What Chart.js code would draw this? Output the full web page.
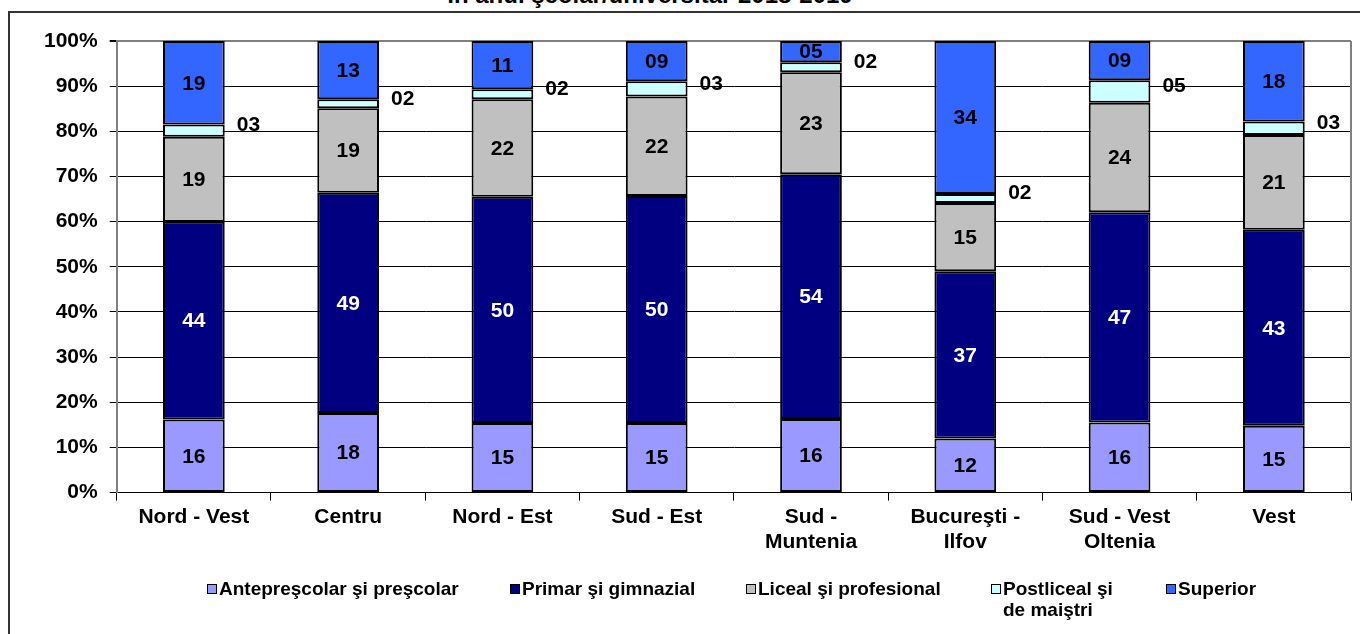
<!DOCTYPE html>
<html>
<head>
<meta charset="utf-8">
<script src="https://cdn.jsdelivr.net/npm/chart.js@4.4.1/dist/chart.umd.min.js"></script>
<style>
  html, body { margin: 0; padding: 0; background: #fff; }
  body { width: 1360px; height: 634px; position: relative; overflow: hidden; font-family: "Liberation Sans", Arial, sans-serif; }
  #frame { position: absolute; left: 8px; top: 11px; width: 1360px; height: 640px; border-left: 2px solid #333; border-top: 2px solid #333; box-sizing: border-box; }
  #title { position: absolute; left: 0; width: 1300px; top: -17px; text-align: center; font-weight: bold; font-size: 24px; line-height: 24px; color: #000; white-space: nowrap; }
  #wrap { position: absolute; left: 0; top: 0; width: 1360px; height: 634px; }
  .lg { position: absolute; top: 578px; font-weight: bold; font-size: 19px; line-height: 21px; color: #000; white-space: nowrap; }
  .lg .box { position: absolute; left: 0; top: 6px; width: 8px; height: 8px; border: 1px solid #000; }
  .lg .txt { position: absolute; left: 12px; top: 0; }
</style>
</head>
<body>
<div id="title">în anul şcolar/universitar 2018-2019</div>
<div id="frame"></div>
<div id="wrap"><canvas id="c" width="1360" height="634"></canvas></div>
<div id="legend"></div>
<script>
const categories = [
  ["Nord - Vest"], ["Centru"], ["Nord - Est"], ["Sud - Est"],
  ["Sud -", "Muntenia"], ["Bucureşti -", "Ilfov"], ["Sud - Vest", "Oltenia"], ["Vest"]
];
const seriesNames = ["Antepreşcolar şi preşcolar", "Primar şi gimnazial", "Liceal şi profesional", "Postliceal şi\nde maiştri", "Superior"];
const anteprescolar = [16.2, 17.6, 15.4, 15.4, 16.3, 12.0, 15.5, 14.8];
const primar        = [43.8, 48.8, 50.1, 50.3, 54.2, 37.0, 46.6, 43.4];
const liceal        = [18.8, 18.7, 21.6, 22.0, 22.6, 15.1, 24.2, 21.0];
const postliceal    = [2.7, 2.0, 2.2, 3.4, 2.2, 2.0, 5.0, 3.0];
const superior      = [18.5, 12.9, 10.7, 8.9, 4.7, 33.9, 8.7, 17.8];
const yTicks = [0, 10, 20, 30, 40, 50, 60, 70, 80, 90, 100];

const colors = ["#9999FF", "#000080", "#C0C0C0", "#CCFFFF", "#3366FF"];
const labelColors = ["#000", "#fff", "#000", "#000", "#000"];
const legendX = [207, 510, 746, 991, 1166];

const FONT = "'Liberation Sans', Arial, sans-serif";
const seriesData = [anteprescolar, primar, liceal, postliceal, superior];

const labelsPlugin = {
  id: 'segLabels',
  afterDatasetsDraw(chart) {
    const ctx = chart.ctx;
    ctx.save();
    ctx.font = "bold 21px " + FONT;
    ctx.textBaseline = 'middle';
    chart.data.datasets.forEach((ds, di) => {
      const meta = chart.getDatasetMeta(di);
      meta.data.forEach((bar, i) => {
        const v = ds.data[i];
        const txt = String(Math.round(v)).padStart(2, '0');
        const cy = (bar.y + bar.base) / 2;
        ctx.fillStyle = labelColors[di];
        if (di === 3) {
          ctx.textAlign = 'left';
          ctx.fillStyle = '#000';
          ctx.fillText(txt, bar.x + bar.width / 2 + 12, cy - 5);
        } else {
          ctx.textAlign = 'center';
          ctx.fillText(txt, bar.x, cy + 1);
        }
      });
    });
    ctx.restore();
  }
};

const borderPlugin = {
  id: 'plotBorder',
  beforeDatasetsDraw(chart) {
    const a = chart.chartArea, ctx = chart.ctx;
    ctx.save();
    ctx.strokeStyle = '#808080';
    ctx.lineWidth = 2;
    ctx.beginPath();
    ctx.moveTo(a.right, a.top);
    ctx.lineTo(a.right, a.bottom);
    ctx.stroke();
    ctx.restore();
  }
};

new Chart(document.getElementById('c'), {
  type: 'bar',
  data: {
    labels: categories,
    datasets: seriesData.map((d, i) => ({
      label: seriesNames[i],
      data: d,
      backgroundColor: colors[i],
      borderColor: '#000',
      borderWidth: 2,
      borderSkipped: false,
      categoryPercentage: 1,
      barPercentage: 0.4
    }))
  },
  options: {
    responsive: false,
    animation: false,
    devicePixelRatio: 1,
    layout: { padding: { left: 32, right: 9, top: 41, bottom: 75 } },
    plugins: { legend: { display: false }, tooltip: { enabled: false }, title: { display: false } },
    scales: {
      x: {
        stacked: true,
        grid: { drawOnChartArea: false, drawTicks: true, tickLength: 8, offset: true, color: '#000', lineWidth: 1 },
        border: { color: '#000', width: 1 },
        ticks: { color: '#000', font: { family: FONT, size: 21, weight: 'bold' }, padding: 4, maxRotation: 0, autoSkip: false }
      },
      y: {
        stacked: true,
        min: 0, max: 100,
        afterBuildTicks(axis) { axis.ticks = yTicks.map(v => ({ value: v })); },
        grid: {
          color: (c) => (c.tick && c.tick.value === 100) ? '#808080' : '#000',
          lineWidth: (c) => (c.tick && c.tick.value === 100) ? 2 : 1,
          tickColor: '#000', tickLength: 7, drawTicks: true
        },
        border: { color: '#808080', width: 2 },
        ticks: { color: '#000', font: { family: FONT, size: 21, weight: 'bold' }, padding: 12, callback: (v) => v + '%' }
      }
    }
  },
  plugins: [borderPlugin, labelsPlugin]
});

const lg = document.getElementById('legend');
seriesNames.forEach((name, i) => {
  const item = document.createElement('div');
  item.className = 'lg';
  item.style.left = legendX[i] + 'px';
  const box = document.createElement('span');
  box.className = 'box';
  box.style.background = colors[i];
  const t = document.createElement('span');
  t.className = 'txt';
  t.innerHTML = name.split('\n').join('<br>');
  item.appendChild(box); item.appendChild(t);
  lg.appendChild(item);
});
</script>
</body>
</html>
